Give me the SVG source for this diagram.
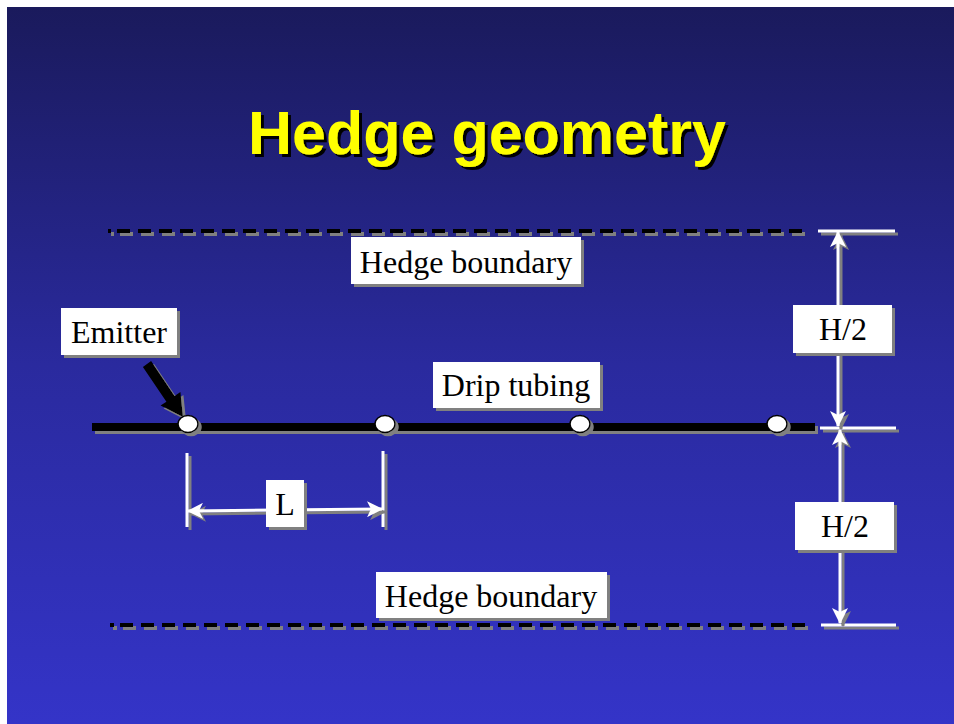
<svg xmlns="http://www.w3.org/2000/svg" width="954" height="724" viewBox="0 0 954 724">
<defs>
<linearGradient id="bg" x1="0" y1="0" x2="0" y2="1">
<stop offset="0" stop-color="#1a1a5c"/>
<stop offset="0.5" stop-color="#2a2a9e"/>
<stop offset="1" stop-color="#3434c8"/>
</linearGradient>
<filter id="sh" filterUnits="userSpaceOnUse" x="0" y="0" width="954" height="724">
<feDropShadow dx="3" dy="3" stdDeviation="0" flood-color="#808080" flood-opacity="1"/>
</filter>
<filter id="tsh" filterUnits="userSpaceOnUse" x="0" y="0" width="954" height="724">
<feDropShadow dx="3" dy="3" stdDeviation="0" flood-color="#000000" flood-opacity="1"/>
</filter>
<marker id="ah" viewBox="0 0 16 16" refX="15" refY="8" markerWidth="16" markerHeight="16" markerUnits="userSpaceOnUse" orient="auto-start-reverse">
<path d="M0,0 L16,8 L0,16 L4,8 z" fill="#ffffff"/>
</marker>
<style>
.box{fill:#ffffff;filter:url(#sh)}
.lbl{font-family:"Liberation Serif","Times New Roman",serif;font-size:32px;fill:#000000;text-anchor:middle}
.dash{stroke:#000000;stroke-width:4;fill:none;filter:url(#sh)}
.wl{stroke:#ffffff;stroke-width:3;fill:none;filter:url(#sh)}
.dim{stroke:#ffffff;stroke-width:3;fill:none;marker-start:url(#ah);marker-end:url(#ah);filter:url(#sh)}
.emit{fill:#ffffff;stroke:#000000;stroke-width:1.5;filter:url(#sh)}
</style>
</defs>
<rect x="0" y="0" width="954" height="724" fill="#ffffff"/>
<rect x="7" y="7" width="947" height="717" fill="url(#bg)"/>

<g id="title">
<text x="487" y="154" font-family="'Liberation Sans',Arial,sans-serif" font-weight="bold" font-size="61" text-anchor="middle" fill="#ffff00" filter="url(#tsh)">Hedge geometry</text>
</g>

<g id="connectors">
<line class="dash" x1="108" y1="231" x2="806" y2="231" stroke-dasharray="3 6 13 8 13 8 13 8 13 8 13 8 13 8 13 8 13 8 13 8 13 8 13 8 13 8 13 8 13 8 13 8 13 8 13 8 13 8 13 8 13 8 13 8 13 8 13 8 13 8 13 8 13 8 13 8 13 8 13 8 13 8 13 8 13 8 13 8 13 8"/>
<line class="dash" x1="110" y1="625" x2="811" y2="625" stroke-dasharray="4 6 13 8 13 8 13 8 13 8 13 8 13 8 13 8 13 8 13 8 13 8 13 8 13 8 13 8 13 8 13 8 13 8 13 8 13 8 13 8 13 8 13 8 13 8 13 8 13 8 13 8 13 8 13 8 13 8 13 8 13 8 13 8 13 8 13 8 13 8"/>
<line x1="92" y1="427" x2="815" y2="427" stroke="#000000" stroke-width="8" filter="url(#sh)"/>
<line class="wl" x1="818" y1="231" x2="895" y2="231"/>
<line class="wl" x1="820" y1="428" x2="896" y2="428"/>
<line class="wl" x1="821" y1="625" x2="896" y2="625"/>
<line class="dim" x1="838" y1="232" x2="838" y2="426"/>
<line class="dim" x1="840" y1="430" x2="840" y2="623"/>
<line class="wl" x1="187" y1="453" x2="187" y2="527"/>
<line class="wl" x1="383" y1="451" x2="383" y2="527"/>
<line class="dim" x1="188" y1="511" x2="382" y2="509"/>
<polygon points="151.1,361.1 174.6,396 180.4,392 183,417 160.6,405.6 166.4,401.7 142.9,366.9" fill="#000000" filter="url(#sh)"/>
</g>

<g id="emitters">
<ellipse class="emit" cx="188" cy="424" rx="10" ry="8.5"/>
<ellipse class="emit" cx="385" cy="424" rx="10" ry="8.5"/>
<ellipse class="emit" cx="580" cy="424" rx="10" ry="8.5"/>
<ellipse class="emit" cx="777" cy="424" rx="10" ry="8.5"/>
</g>

<g id="hedge-boundary-top">
<rect class="box" x="351" y="237" width="230" height="47"/>
<text class="lbl" x="466" y="273">Hedge boundary</text>
</g>

<g id="hedge-boundary-bottom">
<rect class="box" x="376" y="572" width="231" height="46"/>
<text class="lbl" x="491" y="607">Hedge boundary</text>
</g>

<g id="emitter-label">
<rect class="box" x="61" y="308" width="116" height="47"/>
<text class="lbl" x="119" y="343">Emitter</text>
</g>

<g id="drip-tubing-label">
<rect class="box" x="433" y="362" width="167" height="46"/>
<text class="lbl" x="516" y="396">Drip tubing</text>
</g>

<g id="h2-top">
<rect class="box" x="793" y="305" width="99" height="48"/>
<text class="lbl" x="843" y="340">H/2</text>
</g>

<g id="h2-bottom">
<rect class="box" x="795" y="502" width="99" height="48"/>
<text class="lbl" x="845" y="537">H/2</text>
</g>

<g id="L-label">
<rect class="box" x="266" y="480" width="38" height="47"/>
<text class="lbl" x="285" y="515">L</text>
</g>
</svg>
